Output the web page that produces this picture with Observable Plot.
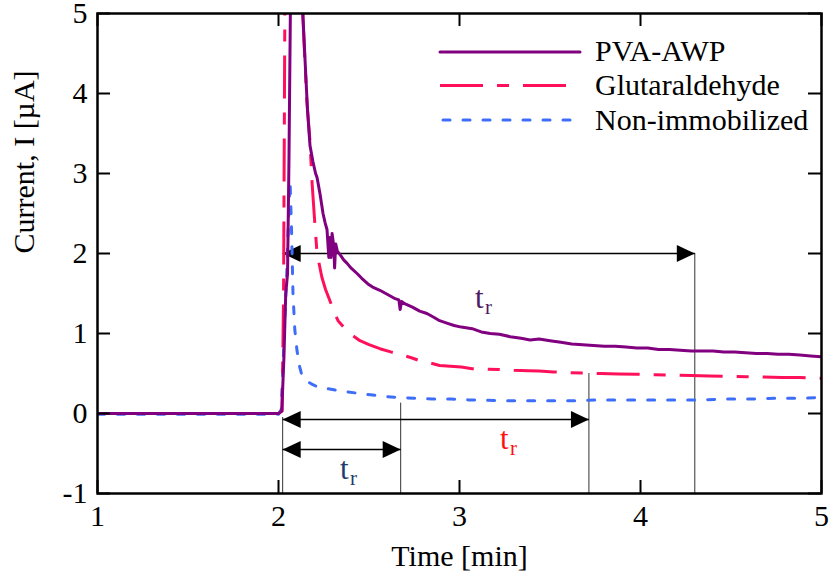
<!DOCTYPE html>
<html>
<head>
<meta charset="utf-8">
<script src="https://cdn.jsdelivr.net/npm/d3@7"></script>
<script src="https://cdn.jsdelivr.net/npm/@observablehq/plot@0.6"></script>
<style>
  html, body { margin: 0; padding: 0; background: white; }
  #chart { position: relative; width: 833px; height: 581px; }
  #chart svg { display: block; }
  #legend { position: absolute; left: 0; top: 0; }
</style>
</head>
<body>
<div id="chart"></div>
<script>
// ---------- data ----------
const xTicks = [1, 2, 3, 4, 5];
const yTicks = [-1, 0, 1, 2, 3, 4, 5];

const seriesNames = ["PVA-AWP", "Glutaraldehyde", "Non-immobilized"];

const pvaTime = [1.00, 1.50, 2.00, 2.018, 2.03, 2.04, 2.05, 2.058, 2.068, 2.10, 2.128, 2.146, 2.16, 2.174, 2.19, 2.205, 2.213, 2.229, 2.246, 2.258, 2.268, 2.278, 2.284, 2.29, 2.296, 2.305, 2.31, 2.316, 2.325, 2.345, 2.36, 2.378, 2.40, 2.434, 2.46, 2.494, 2.52, 2.56, 2.60, 2.64, 2.665, 2.672, 2.68, 2.70, 2.74, 2.78, 2.82, 2.86, 2.89, 2.93, 2.97, 3.01, 3.07, 3.12, 3.17, 3.22, 3.28, 3.34, 3.39, 3.44, 3.50, 3.56, 3.62, 3.68, 3.74, 3.80, 3.86, 3.92, 3.98, 4.04, 4.10, 4.16, 4.22, 4.28, 4.34, 4.40, 4.46, 4.52, 4.58, 4.64, 4.70, 4.76, 4.82, 4.88, 4.94, 5.00];
const pvaCurrent = [0, 0, 0, 0.03, 0.7, 1.5, 1.75, 3.2, 5.6, 6.8, 5.3, 4.45, 3.8, 3.35, 3.15, 3.0, 2.95, 2.75, 2.5, 2.38, 2.3, 1.95, 2.2, 1.95, 2.25, 2.1, 1.82, 2.12, 2.03, 1.97, 1.92, 1.88, 1.82, 1.75, 1.69, 1.62, 1.58, 1.54, 1.49, 1.44, 1.42, 1.3, 1.4, 1.37, 1.33, 1.28, 1.25, 1.2, 1.16, 1.13, 1.10, 1.08, 1.06, 1.02, 1.0, 0.99, 0.96, 0.94, 0.92, 0.93, 0.91, 0.89, 0.87, 0.86, 0.85, 0.84, 0.84, 0.83, 0.82, 0.82, 0.80, 0.80, 0.79, 0.78, 0.78, 0.78, 0.77, 0.77, 0.76, 0.75, 0.75, 0.74, 0.74, 0.73, 0.72, 0.71];

const gluTime = [1.00, 1.50, 2.00, 2.02, 2.028, 2.036, 2.05, 2.10, 2.13, 2.135, 2.146, 2.157, 2.174, 2.185, 2.20, 2.213, 2.24, 2.26, 2.284, 2.305, 2.329, 2.36, 2.40, 2.45, 2.50, 2.56, 2.62, 2.67, 2.73, 2.78, 2.84, 2.89, 2.95, 3.01, 3.07, 3.14, 3.22, 3.30, 3.38, 3.44, 3.52, 3.60, 3.68, 3.78, 3.88, 3.98, 4.08, 4.18, 4.28, 4.38, 4.48, 4.58, 4.68, 4.78, 4.88, 4.96, 5.00];
const gluCurrent = [0, 0, 0, 0.03, 1.5, 5.5, 7.0, 7.0, 5.5, 4.95, 4.4, 3.9, 3.4, 2.9, 2.4, 2.0, 1.7, 1.55, 1.41, 1.28, 1.16, 1.08, 0.99, 0.91, 0.86, 0.81, 0.77, 0.74, 0.70, 0.66, 0.63, 0.60, 0.59, 0.58, 0.56, 0.555, 0.55, 0.54, 0.535, 0.53, 0.52, 0.51, 0.505, 0.50, 0.495, 0.49, 0.485, 0.48, 0.475, 0.47, 0.465, 0.46, 0.455, 0.45, 0.45, 0.44, 0.44];

const nonTime = [1.00, 1.50, 2.00, 2.015, 2.025, 2.035, 2.045, 2.055, 2.064, 2.072, 2.08, 2.09, 2.102, 2.115, 2.13, 2.16, 2.19, 2.218, 2.27, 2.323, 2.38, 2.45, 2.52, 2.60, 2.67, 2.76, 2.85, 2.95, 3.05, 3.15, 3.22, 3.35, 3.50, 3.65, 3.78, 3.92, 4.05, 4.20, 4.33, 4.47, 4.60, 4.75, 4.90, 5.00];
const nonCurrent = [-0.01, -0.01, -0.01, 0.05, 0.6, 1.2, 1.7, 2.4, 2.9, 2.3, 1.5, 1.05, 0.79, 0.6, 0.47, 0.40, 0.36, 0.33, 0.31, 0.29, 0.27, 0.25, 0.23, 0.21, 0.20, 0.19, 0.18, 0.18, 0.17, 0.165, 0.16, 0.16, 0.16, 0.16, 0.17, 0.17, 0.17, 0.17, 0.17, 0.18, 0.18, 0.19, 0.19, 0.20];

// response-time annotations (double arrows + drop lines)
const arrowStart = [2.023, 2.023, 2.023];
const arrowEnd = [4.30, 3.715, 2.675];
const arrowLevel = [2.0, -0.075, -0.45];
const dropX = [4.30, 3.715, 2.675, 2.023];
const dropTop = [2.0, 0.5, 0.13, -0.05];
const labelX = [3.086, 3.224, 2.34];
const labelY = [1.325, -0.4375, -0.8125];
const labelColors = ["#4E1A63", "#FF1010", "#1E3C6E"];

// ---------- styles ----------
const colors = ["#800080", "#FF105A", "#3E6EF8"];
const dashes = [null, "43,14,12,14", "7,13"];
const caps = ["round", "butt", "round"];

const toRows = (ts, vs) => ts.map((t, i) => ({t, I: vs[i]}));
const series = [toRows(pvaTime, pvaCurrent), toRows(gluTime, gluCurrent), toRows(nonTime, nonCurrent)];
const arrows = arrowStart.map((x1, i) => ({x1, x2: arrowEnd[i], y: arrowLevel[i]}));
const drops = dropX.map((x, i) => ({x, y1: dropTop[i], y2: -1}));
const labels = labelX.map((x, i) => ({x, y: labelY[i], c: labelColors[i]}));

const arrowRight = {draw(ctx) { ctx.moveTo(0, 0); ctx.lineTo(-18, -8.5); ctx.lineTo(-18, 8.5); ctx.closePath(); }};
const arrowLeft = {draw(ctx) { ctx.moveTo(0, 0); ctx.lineTo(18, -8.5); ctx.lineTo(18, 8.5); ctx.closePath(); }};

const W = 833, H = 581, mL = 97, mR = 12, mT = 13, mB = 88;
const pw = W - mL - mR, ph = H - mT - mB;
const font = "'Liberation Serif', 'Times New Roman', serif";

const plot = Plot.plot({
  width: W, height: H,
  marginLeft: mL, marginRight: mR, marginTop: mT, marginBottom: mB,
  style: {fontFamily: font, fontSize: "30px", background: "white", color: "black"},
  x: {domain: [1, 5], ticks: xTicks, tickSize: 0, tickPadding: 11, tickFormat: d => String(d), label: null},
  y: {domain: [-1, 5], ticks: yTicks, tickSize: 0, tickPadding: 10, tickFormat: d => String(d), label: null},
  marks: [
    // drop lines and arrows
    Plot.ruleX(drops, {x: "x", y1: "y1", y2: "y2", stroke: "#333", strokeWidth: 1}),
    Plot.link(arrows, {x1: "x1", x2: "x2", y1: "y", y2: "y", stroke: "black", strokeWidth: 1.5}),
    Plot.dot(arrows, {x: "x1", y: "y", symbol: arrowLeft, fill: "black", stroke: null}),
    Plot.dot(arrows, {x: "x2", y: "y", symbol: arrowRight, fill: "black", stroke: null}),
    // curves (drawn back to front)
    Plot.line(series[2], {x: "t", y: "I", stroke: colors[2], strokeWidth: 3, strokeDasharray: dashes[2], strokeLinecap: caps[2], clip: true}),
    Plot.line(series[1], {x: "t", y: "I", stroke: colors[1], strokeWidth: 3, strokeDasharray: dashes[1], strokeLinecap: caps[1], clip: true}),
    Plot.line(series[0], {x: "t", y: "I", stroke: colors[0], strokeWidth: 3, clip: true}),
    // t_r labels
    Plot.text(labels, {x: "x", y: "y", text: () => "t", fill: "c", fontSize: 31, textAnchor: "start", lineAnchor: "bottom"}),
    Plot.text(labels, {x: "x", y: "y", text: () => "r", fill: "c", fontSize: 21, textAnchor: "start", lineAnchor: "bottom", dx: 10, dy: 6}),
    // inward ticks on all four sides
    Plot.tickX(xTicks, {x: d => d, insetTop: ph - 13, stroke: "black", strokeWidth: 2}),
    Plot.tickX(xTicks, {x: d => d, insetBottom: ph - 13, stroke: "black", strokeWidth: 2}),
    Plot.tickY(yTicks, {y: d => d, insetRight: pw - 13, stroke: "black", strokeWidth: 2}),
    Plot.tickY(yTicks, {y: d => d, insetLeft: pw - 13, stroke: "black", strokeWidth: 2}),
    Plot.frame({stroke: "black", strokeWidth: 2.5}),
    // axis titles
    Plot.text(["Time [min]"], {frameAnchor: "bottom", text: d => d, dy: 51, lineAnchor: "top", fontSize: 30}),
    Plot.text(["Current, I [µA]"], {frameAnchor: "left", text: d => d, dx: -73, rotate: -90, fontSize: 30})
  ]
});

const chart = document.getElementById("chart");
chart.appendChild(plot);

// legend (inside the plot frame, top-right)
const ns = "http://www.w3.org/2000/svg";
const leg = document.createElementNS(ns, "svg");
leg.setAttribute("id", "legend");
leg.setAttribute("width", W);
leg.setAttribute("height", 160);
const legLineY = [52, 85.5, 120];
const legTextY = [61, 95, 130];
seriesNames.forEach((name, i) => {
  const ln = document.createElementNS(ns, "line");
  ln.setAttribute("x1", i === 2 ? 443 : 440); ln.setAttribute("x2", 580);
  ln.setAttribute("y1", legLineY[i]); ln.setAttribute("y2", legLineY[i]);
  ln.setAttribute("stroke", colors[i]);
  ln.setAttribute("stroke-width", 3);
  ln.setAttribute("stroke-linecap", caps[i]);
  if (dashes[i]) ln.setAttribute("stroke-dasharray", dashes[i]);
  leg.appendChild(ln);
  const tx = document.createElementNS(ns, "text");
  tx.setAttribute("x", 595); tx.setAttribute("y", legTextY[i]);
  tx.setAttribute("font-family", font);
  tx.setAttribute("font-size", 30);
  tx.setAttribute("fill", "black");
  tx.textContent = name;
  leg.appendChild(tx);
});
chart.appendChild(leg);
</script>
</body>
</html>
